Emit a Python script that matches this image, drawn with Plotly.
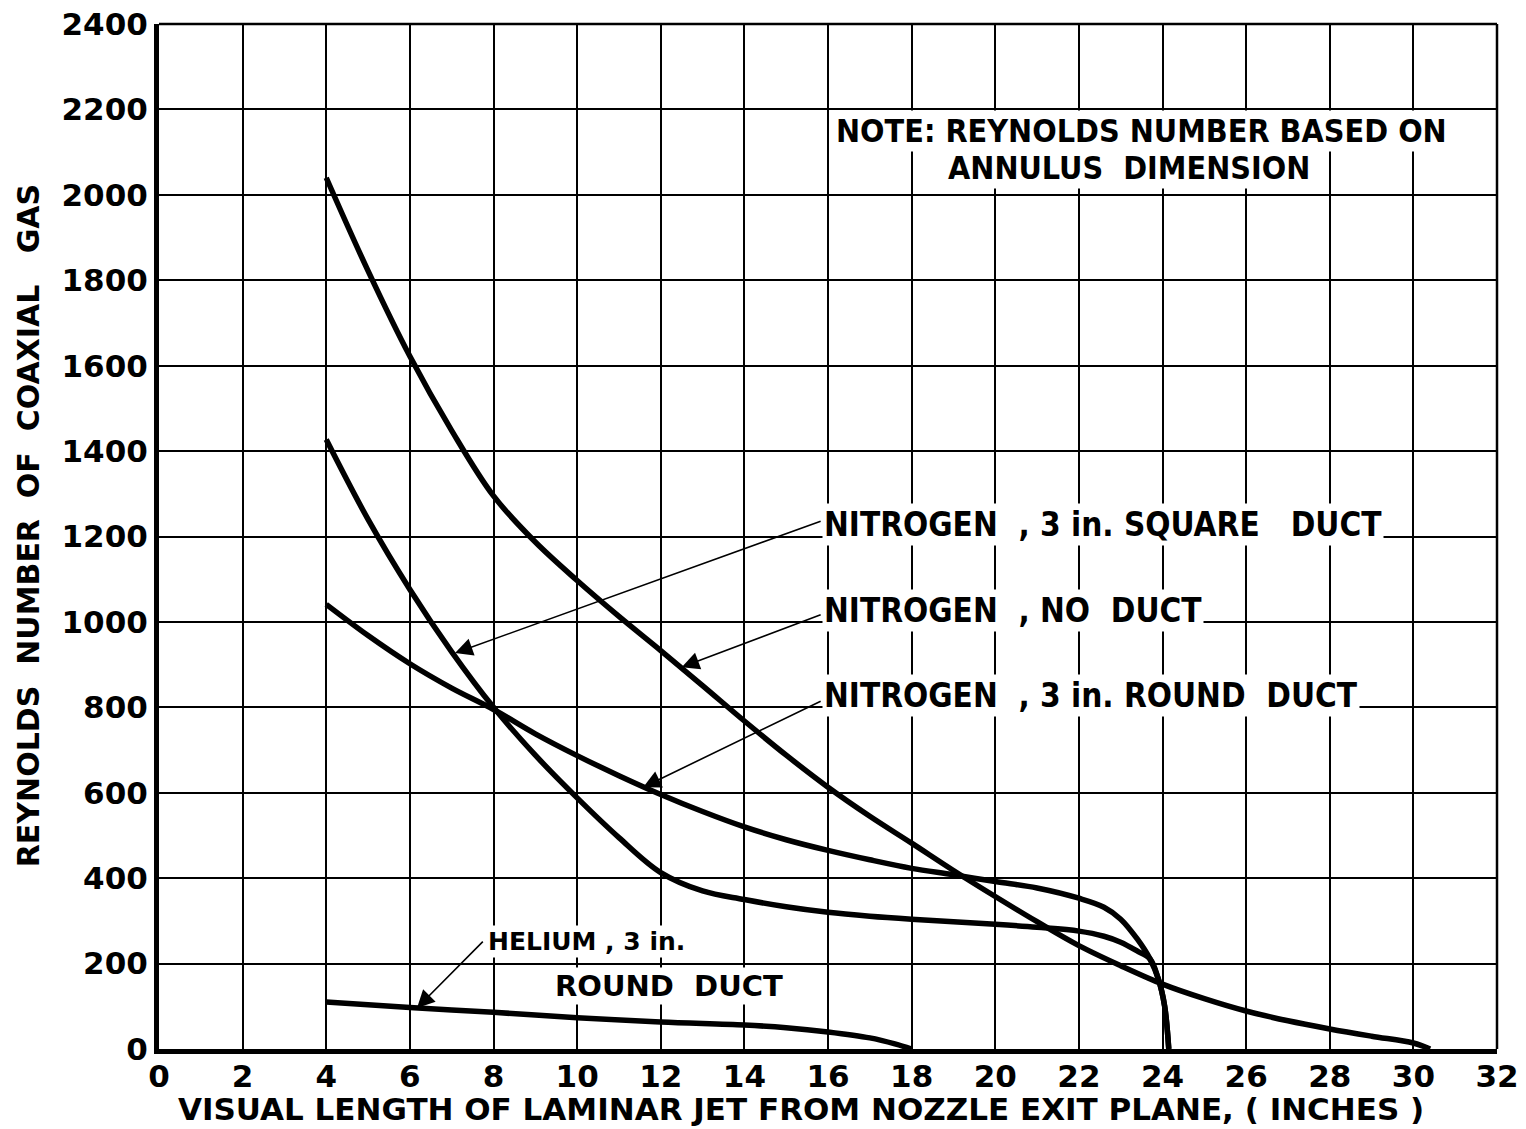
import plotly.graph_objects as go

# ---- data ----
no_duct_x = [4, 5, 6, 7, 8, 9, 10, 11, 12, 13, 14, 15, 16, 17, 18, 19, 20, 21, 22, 23, 24, 25, 26, 27, 28, 29, 30, 30.4]
no_duct_y = [2040, 1822, 1622, 1448, 1295, 1187, 1097, 1013, 933, 851, 768, 688, 613, 545, 482, 418, 357, 298, 242, 195, 152, 118, 89, 66, 47, 30, 14, 0]

square_x = [4, 5, 6, 7, 8, 9, 10, 11, 12, 13, 14, 15, 16, 17, 18, 20, 21, 22, 22.6, 23, 23.4, 23.7, 23.9, 24.05, 24.15]
square_y = [1427, 1240, 1076, 930, 800, 688, 588, 495, 413, 370, 350, 333, 320, 311, 304, 292, 285, 276, 264, 250, 229, 211, 164, 101, 0]

round_x = [4, 5, 6, 7, 8, 9, 10, 11, 12, 13, 14, 15, 16, 17, 18, 19, 20, 21, 22, 22.6, 23, 23.4, 23.7, 23.9, 24.05, 24.15]
round_y = [1041, 968, 902, 845, 795, 738, 687, 640, 596, 556, 520, 490, 465, 443, 423, 408, 392, 377, 353, 332, 304, 257, 211, 164, 101, 0]

helium_x = [4, 6, 8, 10, 12, 14, 15, 16, 17, 17.6, 18]
helium_y = [110, 97, 86, 73, 63, 56, 50, 40, 26, 12, 0]

x_ticks = list(range(0, 33, 2))
y_ticks = list(range(0, 2401, 200))

# label anchors (data units): text, x, y, font size, family key
labels = [
    ("NOTE: REYNOLDS NUMBER BASED ON", 16.15, 2150, 32, "cond"),
    ("ANNULUS  DIMENSION", 18.83, 2063, 32, "cond"),
    ("NITROGEN  , 3 in. SQUARE   DUCT", 15.86, 1228, 33, "cond"),
    ("NITROGEN  , NO  DUCT", 15.86, 1027, 33, "cond"),
    ("NITROGEN  , 3 in. ROUND  DUCT", 15.86, 828, 33, "cond"),
    ("HELIUM , 3 in.", 7.82, 251, 25, "reg"),
    ("ROUND  DUCT", 9.43, 147, 29, "reg"),
]
# arrows: tail (x, y) -> head (x, y)
arrows = [
    (15.86, 1237, 7.08, 927),
    (15.86, 1018, 12.5, 894),
    (15.86, 816, 11.58, 613),
    (7.78, 255, 6.17, 96),
]

FONT = "DejaVu Sans"
COND = "DejaVu Sans Condensed"

fig = go.Figure()
for xs, ys in [(no_duct_x, no_duct_y), (square_x, square_y), (round_x, round_y), (helium_x, helium_y)]:
    fig.add_trace(go.Scatter(x=xs, y=ys, mode="lines",
                             line=dict(color="black", width=5.5, shape="spline", smoothing=1.0),
                             showlegend=False, hoverinfo="skip"))

annotations = []
for t, x, y, sz, fam in labels:
    annotations.append(dict(
        text=t, x=x, y=y, xref="x", yref="y", xanchor="left", yanchor="middle",
        showarrow=False, bgcolor="white",
        font=dict(family=COND if fam == "cond" else FONT, size=sz,
                  color="black", weight="bold"),
    ))
for (tx, ty, hx, hy) in arrows:
    annotations.append(dict(
        text="", x=hx, y=hy, ax=tx, ay=ty, xref="x", yref="y", axref="x", ayref="y",
        showarrow=True, arrowhead=2, arrowsize=2.2, arrowwidth=1.6, arrowcolor="black",
    ))
annotations.append(dict(
    text="VISUAL LENGTH OF LAMINAR JET FROM NOZZLE EXIT PLANE, ( INCHES )",
    xref="paper", yref="paper", x=0.48, y=0, yshift=-60, xanchor="center", yanchor="middle",
    showarrow=False, font=dict(family=FONT, size=31, color="black", weight="bold")))
annotations.append(dict(
    text="REYNOLDS  NUMBER  OF  COAXIAL   GAS",
    xref="paper", yref="paper", x=0, xshift=-131, y=0.51, xanchor="center", yanchor="middle",
    textangle=-90, showarrow=False, font=dict(family=FONT, size=30, color="black", weight="bold")))

fig.update_layout(
    width=1526, height=1129,
    margin=dict(l=159, r=29, t=24, b=80, autoexpand=False),
    paper_bgcolor="white", plot_bgcolor="white",
    font=dict(family=FONT, size=30, color="black"),
    annotations=annotations,
    shapes=[
        dict(type="line", xref="paper", yref="paper", x0=0, x1=1, y0=1, y1=1,
             line=dict(color="black", width=2.5)),
        dict(type="line", xref="paper", yref="paper", x0=1, x1=1, y0=0, y1=1,
             line=dict(color="black", width=2.5)),
    ],
)
tickfont = dict(family=FONT, size=31, color="black", weight="bold")
fig.update_xaxes(range=[0, 32], tickvals=x_ticks, ticktext=[str(v) for v in x_ticks],
                 showgrid=True, gridcolor="black", gridwidth=1.5,
                 showline=True, linecolor="black", linewidth=5,
                 ticks="", zeroline=False, tickfont=tickfont, automargin=False,
                 ticklabeloverflow="allow", ticklabelstandoff=-4)
fig.update_yaxes(range=[0, 2400], tickvals=y_ticks, ticktext=[str(v) for v in y_ticks],
                 showgrid=True, gridcolor="black", gridwidth=1.5,
                 showline=True, linecolor="black", linewidth=5,
                 ticks="", zeroline=False, tickfont=tickfont, automargin=False,
                 ticklabeloverflow="allow")

fig.write_html("out.html", config={"displayModeBar": False},
               post_script="document.body.style.margin='0';")
